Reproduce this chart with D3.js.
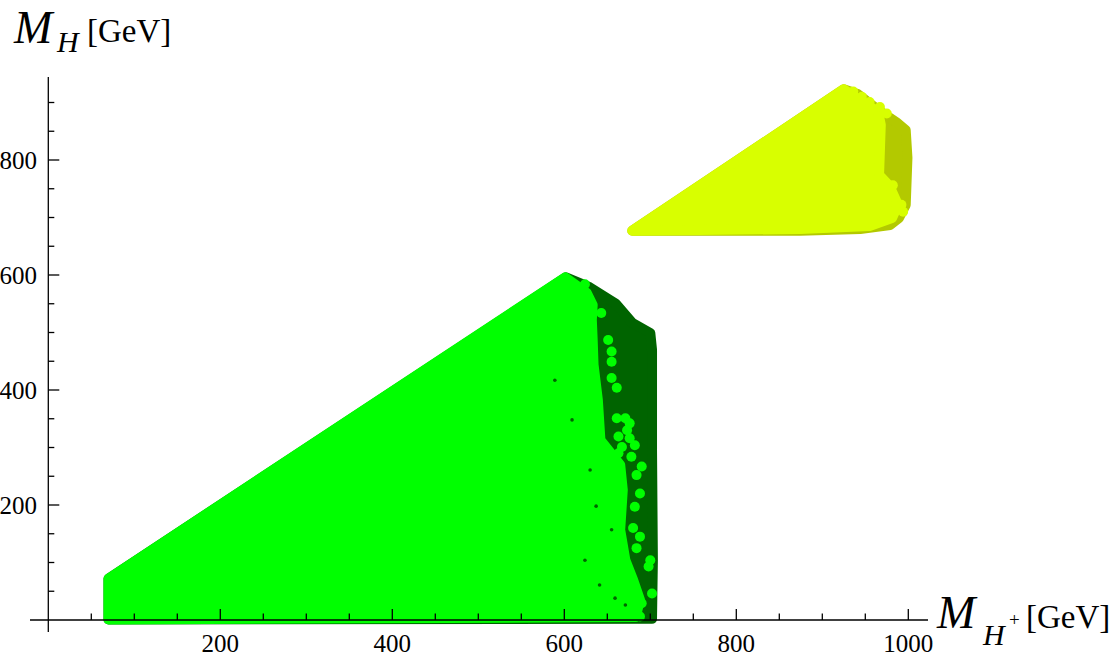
<!DOCTYPE html>
<html>
<head>
<meta charset="utf-8">
<script src="https://cdn.jsdelivr.net/npm/d3@7"></script>
<style>
  html, body { margin: 0; padding: 0; background: #fff; }
  svg text { font-family: "Liberation Serif", "Times New Roman", serif; fill: #000; }
</style>
</head>
<body>
<div id="chart"></div>
<script>
// Scan regions as (M_H+, M_H) in GeV (dot centres)
const darkGreenHull = [[70, 72], [602, 596], [628, 580], [660, 550], [679, 517], [700, 499], [702, 470],
  [702, 296], [703, 104], [702, 2], [70, 1]];
const brightGreenHull = [[70, 1], [70, 72], [601, 596], [626, 569], [633, 548], [632, 522], [633, 487],
  [634, 444], [639, 383], [642, 313], [665, 270], [668, 226], [665, 157], [671, 104], [680, 70],
  [688, 35], [683, 5]];
const darkSpecks = [[589, 417], [609, 348], [630, 261], [637, 198], [655, 157], [624, 104], [641, 61],
  [659, 38], [671, 26]];
const brightGreenDots = [[624, 584], [643, 534], [651, 487], [655, 467], [655, 449], [655, 421], [661, 404],
  [661, 351], [671, 351], [676, 342], [673, 330], [663, 319], [676, 316], [682, 304], [667, 301],
  [678, 284], [663, 290], [690, 267], [684, 252], [688, 220], [682, 197], [680, 160], [688, 145],
  [684, 125], [700, 104], [698, 93], [702, 46], [690, 29], [665, 12], [684, 12], [688, 6]];
const oliveHull = [[679, 677], [925, 923], [941, 915], [967, 885], [986, 866], [997, 852], [999, 804],
  [997, 722], [989, 699], [979, 687], [944, 680], [874, 677]];
const yellowHull = [[679, 677], [925, 923], [944, 903], [965, 884], [968, 861], [966, 774], [978, 755],
  [988, 722], [981, 699], [955, 685], [874, 680]];
const yellowDots = [[936, 919], [946, 910], [955, 901], [967, 892], [975, 881], [982, 756], [992, 722], [994, 710]];

const xMajor = [200, 400, 600, 800, 1000];
const yMajor = [200, 400, 600, 800];
const xMinor = d3.range(50, 1001, 50).filter(v => !xMajor.includes(v));
const yMinor = d3.range(50, 901, 50).filter(v => !yMajor.includes(v));

const W = 1115, H = 663;
const DOT_R = 5;

const x = d3.scaleLinear().domain([0, 1000]).range([48.3, 908.3]);
const y = d3.scaleLinear().domain([0, 800]).range([620, 160]);

const svg = d3.select('#chart').append('svg')
  .attr('width', W)
  .attr('height', H);

// regions: filled hull + thick round stroke so the edge looks like dots
const line = d3.line().x(d => x(d[0])).y(d => y(d[1])).curve(d3.curveLinearClosed);

function region(pts, color) {
  svg.append('path')
    .attr('d', line(pts))
    .attr('fill', color)
    .attr('stroke', color)
    .attr('stroke-width', DOT_R * 2)
    .attr('stroke-linejoin', 'round');
}
function dots(pts, color, r) {
  svg.append('g').selectAll('circle')
    .data(pts)
    .join('circle')
    .attr('cx', d => x(d[0]))
    .attr('cy', d => y(d[1]))
    .attr('r', r)
    .attr('fill', color);
}

region(darkGreenHull, '#006400');
region(brightGreenHull, '#00ff00');
dots(darkSpecks, '#006400', 1.8);
dots(brightGreenDots, '#00ff00', DOT_R);
region(oliveHull, '#b3c900');
region(yellowHull, '#d8ff00');
dots(yellowDots, '#d8ff00', DOT_R);

// axes (Mathematica style: crossing at origin, ticks inward)
const ax = svg.append('g').attr('stroke', '#000').attr('stroke-width', 1.3);
ax.append('line').attr('x1', 30).attr('x2', 928).attr('y1', y(0)).attr('y2', y(0));
ax.append('line').attr('x1', x(0)).attr('x2', x(0)).attr('y1', 77).attr('y2', 632);

ax.selectAll('.xmaj').data(xMajor).join('line')
  .attr('x1', d => x(d)).attr('x2', d => x(d)).attr('y1', y(0)).attr('y2', y(0) - 11);
ax.selectAll('.xmin').data(xMinor).join('line')
  .attr('x1', d => x(d)).attr('x2', d => x(d)).attr('y1', y(0)).attr('y2', y(0) - 6.5);
ax.selectAll('.ymaj').data(yMajor).join('line')
  .attr('y1', d => y(d)).attr('y2', d => y(d)).attr('x1', x(0)).attr('x2', x(0) + 11);
ax.selectAll('.ymin').data(yMinor).join('line')
  .attr('y1', d => y(d)).attr('y2', d => y(d)).attr('x1', x(0)).attr('x2', x(0) + 6);

svg.append('g').selectAll('text')
  .data(xMajor)
  .join('text')
  .attr('x', d => x(d))
  .attr('y', 652)
  .attr('text-anchor', 'middle')
  .attr('font-size', 25)
  .text(d => d);

svg.append('g').selectAll('text')
  .data(yMajor)
  .join('text')
  .attr('x', 37)
  .attr('y', d => y(d) + 8.5)
  .attr('text-anchor', 'end')
  .attr('font-size', 25)
  .text(d => d);

// axis labels
const yl = svg.append('text');
yl.append('tspan').attr('x', 14).attr('y', 43).attr('font-size', 46).attr('font-style', 'italic').text('M');
yl.append('tspan').attr('x', 57).attr('y', 52).attr('font-size', 30).attr('font-style', 'italic').text('H');
yl.append('tspan').attr('x', 87).attr('y', 42).attr('font-size', 33).text('[GeV]');

const xl = svg.append('text');
xl.append('tspan').attr('x', 937).attr('y', 628).attr('font-size', 46).attr('font-style', 'italic').text('M');
xl.append('tspan').attr('x', 983).attr('y', 645).attr('font-size', 30).attr('font-style', 'italic').text('H');
xl.append('tspan').attr('x', 1009).attr('y', 626).attr('font-size', 19).text('+');
xl.append('tspan').attr('x', 1026).attr('y', 628).attr('font-size', 33).text('[GeV]');
</script>
</body>
</html>
